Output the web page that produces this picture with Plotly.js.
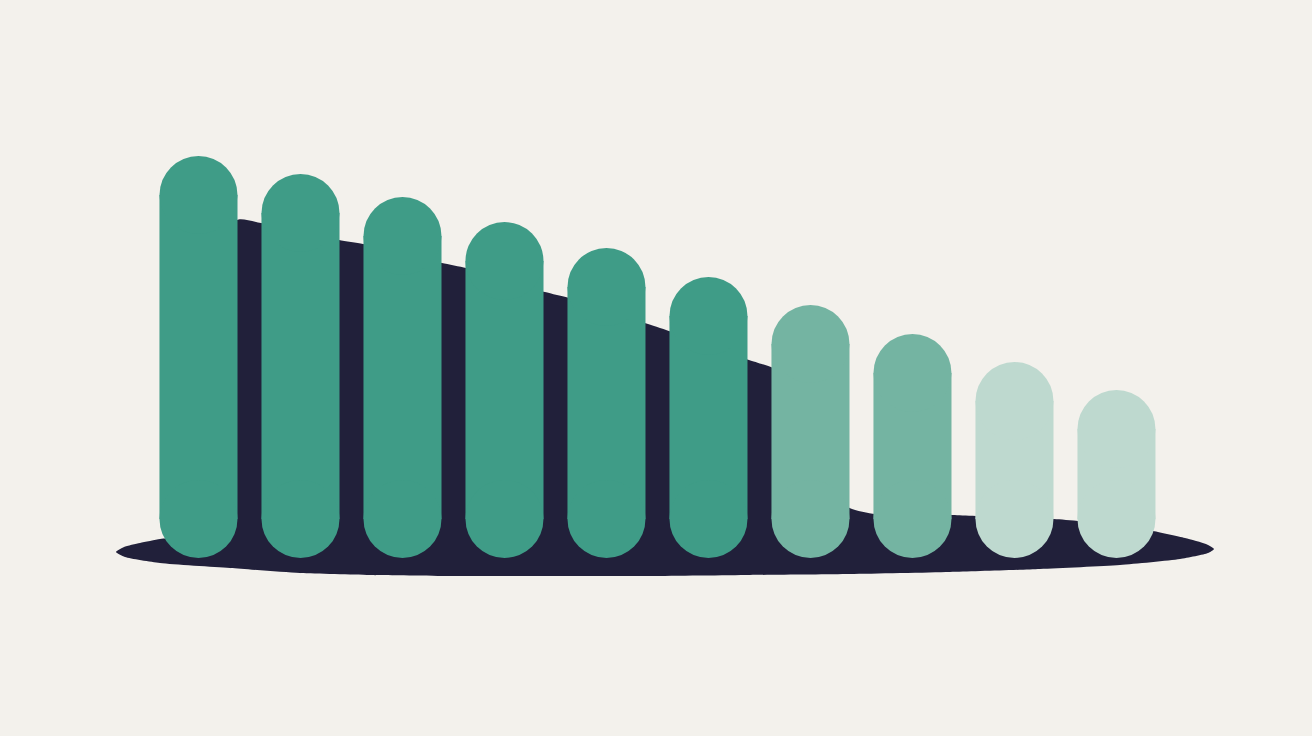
<!DOCTYPE html>
<html>
<head>
<meta charset="utf-8">
<script src="https://cdn.plot.ly/plotly-3.0.1.min.js"></script>
<style>
html,body{margin:0;padding:0;background:#f3f1ec;}
#chart{width:1312px;height:736px;}
</style>
</head>
<body>
<div id="chart"></div>
<script>
// Categories (bar index) and bar heights (units above baseline)
const categories = [0,1,2,3,4,5,6,7,8,9];
const values = [402, 384, 361, 336, 310, 281, 253, 224, 196, 168];
const barColors = ['#3f9c87','#3f9c87','#3f9c87','#3f9c87','#3f9c87','#3f9c87',
                   '#74b4a2','#74b4a2','#bed9cf','#bed9cf'];

// Backdrop "shadow" outline (x, y in picture units)
const shadowX = [116, 124, 140, 160, 175, 192, 210, 237, 261, 300, 339, 363, 400, 442, 466, 505, 545, 569, 610, 648, 672, 710, 749, 773, 800, 820, 836, 848, 875, 920, 953, 1000, 1054, 1110, 1153, 1185, 1206, 1214, 1208, 1180, 1120, 1040, 950, 850, 750, 650, 550, 450, 370, 300, 230, 160, 125, 116];
const shadowY = [552, 547, 543, 539, 536, 450, 290, 220, 223, 231, 240, 244, 253, 263, 268, 280, 292, 298, 311, 324, 332, 346, 360, 368, 385, 430, 480, 507, 514, 514, 515, 517, 519, 524, 531, 538, 544, 549, 553, 559, 565, 569, 572, 574, 575, 576, 576, 576, 575, 573, 568, 563, 557, 552];

const capR = 39; // half of bar width in picture units
const rectBase = values.map(() => capR);
const rectLen = values.map(v => v - 2 * capR);
const topCap = values.map(v => v - capR);
const bottomCap = values.map(() => capR);

const traces = [
  {
    type: 'scatter', x: shadowX, y: shadowY,
    mode: 'lines', line: {color: '#21203a', width: 0, shape: 'spline', smoothing: 0.6},
    fill: 'toself', fillcolor: '#21203a', hoverinfo: 'skip'
  },
  {
    type: 'bar', x: categories, y: rectLen, base: rectBase, width: 0.765,
    xaxis: 'x2', yaxis: 'y2',
    marker: {color: barColors, line: {width: 0}}, hoverinfo: 'skip'
  },
  {
    type: 'scatter', mode: 'markers', x: categories, y: topCap, xaxis: 'x2', yaxis: 'y2',
    marker: {color: barColors, size: 2 * capR, line: {width: 0}}, hoverinfo: 'skip'
  },
  {
    type: 'scatter', mode: 'markers', x: categories, y: bottomCap, xaxis: 'x2', yaxis: 'y2',
    marker: {color: barColors, size: 2 * capR, line: {width: 0}}, hoverinfo: 'skip'
  }
];

const layout = {
  width: 1312, height: 736,
  margin: {l: 0, r: 0, t: 0, b: 0, pad: 0},
  paper_bgcolor: '#f3f1ec', plot_bgcolor: '#f3f1ec',
  showlegend: false, barmode: 'overlay',
  xaxis: {range: [0, 1312], visible: false, fixedrange: true},
  yaxis: {range: [736, 0], visible: false, fixedrange: true},
  xaxis2: {range: [-1.946, 10.917], visible: false, overlaying: 'x', fixedrange: true},
  yaxis2: {range: [-178, 558], visible: false, overlaying: 'y', fixedrange: true}
};

Plotly.newPlot('chart', traces, layout, {staticPlot: true, displayModeBar: false});
</script>
</body>
</html>
